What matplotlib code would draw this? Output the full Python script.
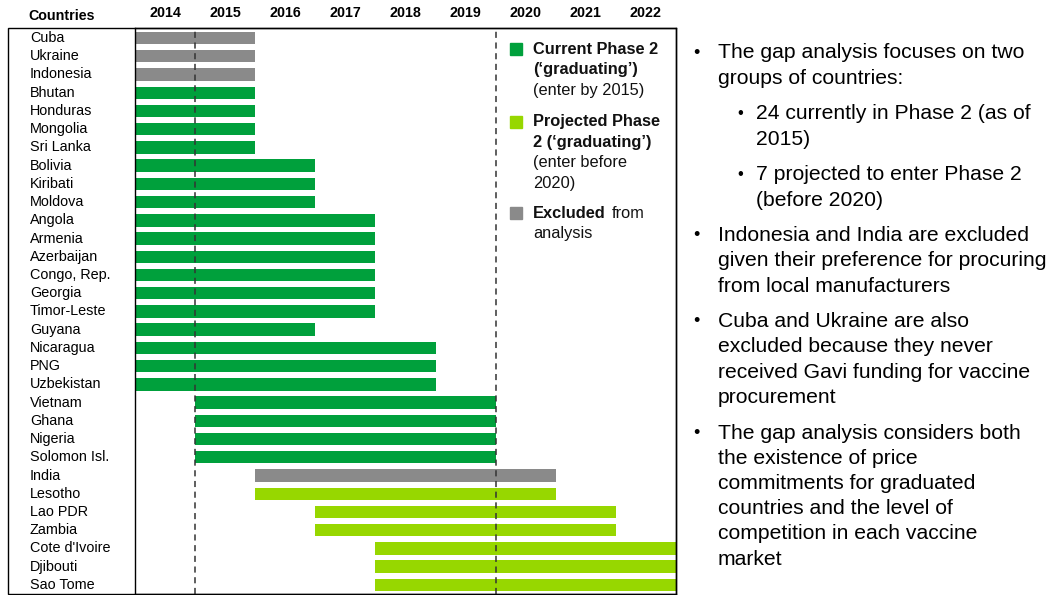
import matplotlib
matplotlib.use('Agg')
import matplotlib.pyplot as plt
from matplotlib.patches import Rectangle

# Datos del grafico
countries = ['Cuba', 'Ukraine', 'Indonesia', 'Bhutan', 'Honduras', 'Mongolia', 'Sri Lanka',
             'Bolivia', 'Kiribati', 'Moldova', 'Angola', 'Armenia', 'Azerbaijan', 'Congo, Rep.',
             'Georgia', 'Timor-Leste', 'Guyana', 'Nicaragua', 'PNG', 'Uzbekistan', 'Vietnam',
             'Ghana', 'Nigeria', 'Solomon Isl.', 'India', 'Lesotho', 'Lao PDR', 'Zambia',
             "Cote d'Ivoire", 'Djibouti', 'Sao Tome']
start_year = [2014, 2014, 2014, 2014, 2014, 2014, 2014,
              2014, 2014, 2014, 2014, 2014, 2014, 2014,
              2014, 2014, 2014, 2014, 2014, 2014, 2015,
              2015, 2015, 2015, 2016, 2016, 2017, 2017,
              2018, 2018, 2018]
end_year = [2016, 2016, 2016, 2016, 2016, 2016, 2016,
            2017, 2017, 2017, 2018, 2018, 2018, 2018,
            2018, 2018, 2017, 2019, 2019, 2019, 2020,
            2020, 2020, 2020, 2021, 2021, 2022, 2022,
            2023, 2023, 2023]
group = ['excluded'] * 3 + ['current'] * 21 + ['excluded'] + ['projected'] * 6
years = [2014, 2015, 2016, 2017, 2018, 2019, 2020, 2021, 2022]
cutoffs = [2015, 2020]

colores = {'current': '#00A03C', 'projected': '#97D700', 'excluded': '#8A8A8A'}

notes = [
    (0, ['The gap analysis focuses on two', 'groups of countries:']),
    (1, ['24 currently in Phase 2 (as of', '2015)']),
    (1, ['7 projected to enter Phase 2', '(before 2020)']),
    (0, ['Indonesia and India are excluded', 'given their preference for procuring',
         'from local manufacturers']),
    (0, ['Cuba and Ukraine are also', 'excluded because they never',
         'received Gavi funding for vaccine', 'procurement']),
    (0, ['The gap analysis considers both', 'the existence of price',
         'commitments for graduated', 'countries and the level of',
         'competition in each vaccine', 'market']),
]

plt.rcParams['font.family'] = ['Liberation Sans', 'DejaVu Sans']

W, H = 1052, 595
fig = plt.figure(figsize=(W / 100, H / 100), dpi=100)


def fx(px):
    return px / W


def fy(py):
    return 1 - py / H


ax = fig.add_axes([fx(135), fy(594), fx(676 - 135), (594 - 28) / H])

n = len(countries)
for i in range(n):
    ax.barh(i, end_year[i] - start_year[i], left=start_year[i], height=0.68,
            color=colores[group[i]], edgecolor='none', zorder=2)

for c in cutoffs:
    ax.axvline(c, color='#333333', linestyle=(0, (4, 3)), linewidth=1.1, zorder=3)

ax.set_xlim(2014, 2023)
ax.set_ylim(n - 0.5, -0.55)
ax.set_yticks([])
ax.xaxis.tick_top()
ax.set_xticks([y + 0.5 for y in years])
ax.set_xticklabels([str(y) for y in years], fontweight='bold', fontsize=10.3)
ax.tick_params(axis='x', length=0, pad=6)
for s in ax.spines.values():
    s.set_linewidth(1.0)

# Etiquetas de paises
trans = matplotlib.transforms.blended_transform_factory(fig.transFigure, ax.transData)
for i, c in enumerate(countries):
    ax.text(fx(30), i, c, transform=trans, ha='left', va='center', fontsize=10.4)

fig.text(fx(28), fy(16), 'Countries', ha='left', va='center', fontsize=10.3,
         fontweight='bold')

# Marco exterior
fig.patches.append(Rectangle((fx(8), fy(594)), fx(676 - 8), (594 - 28) / H, fill=False,
                             edgecolor='black', linewidth=1.0, transform=fig.transFigure))

# Leyenda
leg_items = [
    ('current', 49, [('Current Phase 2', 'bold'), ("(\u2018graduating\u2019)", 'bold'),
                     ('(enter by 2015)', 'normal')]),
    ('projected', 122, [('Projected Phase', 'bold'), ("2 (\u2018graduating\u2019)", 'bold'),
                        ('(enter before', 'normal'), ('2020)', 'normal')]),
    ('excluded', 213, [('Excluded', 'bold'), ('analysis', 'normal')]),
]
for key, y0, lines in leg_items:
    fig.patches.append(Rectangle((fx(510), fy(y0 + 6)), fx(12), 12 / H, color=colores[key],
                                 transform=fig.transFigure))
    for k, (txt, w) in enumerate(lines):
        fig.text(fx(533), fy(y0 + k * 20.5), txt, ha='left', va='center', fontsize=11.8,
                 fontweight=w, color='#111111')
fig.text(fx(612), fy(213), 'from', ha='left', va='center', fontsize=11.8, color='#111111')

# Texto a la derecha
y = 53
for level, lines in notes:
    bx = 693 if level == 0 else 737
    tx = 718 if level == 0 else 756
    fig.text(fx(bx), fy(y), '\u2022', ha='left', va='center', fontsize=13 if level == 0 else 12)
    for k, line in enumerate(lines):
        fig.text(fx(tx), fy(y + k * 25.2), line, ha='left', va='center', fontsize=15.2)
    y += len(lines) * 25.2 + 10.5

fig.savefig('out.png', dpi=100)
